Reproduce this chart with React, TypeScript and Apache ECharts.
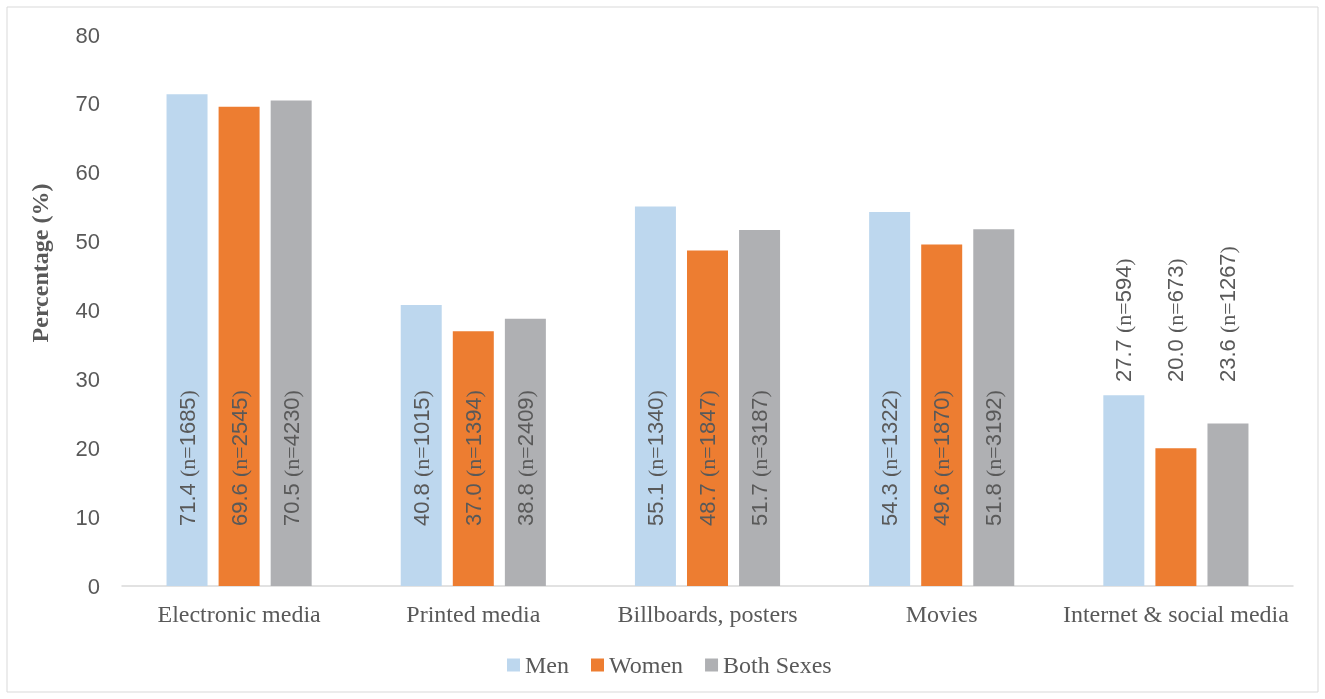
import React, { useEffect, useRef } from "react";
import * as echarts from "echarts";

const categories = ["Electronic media", "Printed media", "Billboards, posters", "Movies", "Internet & social media"];
const seriesNames = ["Men", "Women", "Both Sexes"];
const menValues = [71.4, 40.8, 55.1, 54.3, 27.7];
const womenValues = [69.6, 37.0, 48.7, 49.6, 20.0];
const bothValues = [70.5, 38.8, 51.7, 51.8, 23.6];
const menN = [1685, 1015, 1340, 1322, 594];
const womenN = [2545, 1394, 1847, 1870, 673];
const bothN = [4230, 2409, 3187, 3192, 1267];
const colors = ["#BDD7EE", "#ED7D31", "#AFB0B3"];
const labelAbove = [false, false, false, false, true];

const serif = "'Liberation Serif', 'DejaVu Serif', serif";
const sans = "'Liberation Sans', 'DejaVu Sans', sans-serif";
const textColor = "#595959";

export default function App() {
  const ref = useRef<HTMLDivElement>(null);
  useEffect(() => {
    if (!ref.current) return;
    const chart = echarts.init(ref.current, null, { renderer: "svg" });
    const vals = [menValues, womenValues, bothValues];
    const ns = [menN, womenN, bothN];
    const series = seriesNames.map((name, si) => ({
      name,
      type: "bar",
      barWidth: 41,
      barGap: "27%",
      itemStyle: { color: colors[si] },
      data: vals[si].map((v, i) => ({
        value: v,
        label: labelAbove[i]
          ? { position: "insideBottom", distance: 204 }
          : { position: "insideBottom", distance: 60 },
      })),
      label: {
        show: true,
        rotate: 90,
        align: "left",
        verticalAlign: "middle",
        color: textColor,
        formatter: (p: any) =>
          `{s|${vals[si][p.dataIndex].toFixed(1)} }{t|(n=}{s|${ns[si][p.dataIndex]}}{t|)}`,
        rich: {
          s: { fontFamily: sans, fontSize: 22, color: textColor },
          t: { fontFamily: serif, fontSize: 22, color: textColor },
        },
      },
    }));
    chart.setOption({
      animation: false,
      grid: { left: 122, right: 32, top: 35, bottom: 113 },
      graphic: [
        {
          type: "rect",
          shape: { x: 7, y: 7, width: 1311, height: 685 },
          style: { fill: "none", stroke: "#d9d9d9", lineWidth: 1 },
          silent: true,
        },
        {
          type: "text",
          x: 40,
          y: 263,
          rotation: Math.PI / 2,
          style: {
            text: "Percentage (%)",
            font: `bold 24px ${serif}`,
            fill: textColor,
            align: "center",
            verticalAlign: "middle",
          },
          silent: true,
        },
      ],
      legend: {
        top: 648,
        left: 502,
        itemWidth: 13,
        itemHeight: 13,
        itemGap: 22,
        icon: "rect",
        textStyle: { fontFamily: serif, fontSize: 24, color: textColor },
        data: seriesNames,
      },
      xAxis: {
        type: "category",
        data: categories,
        axisLine: { lineStyle: { color: "#d9d9d9", width: 1.5 } },
        axisTick: { show: false },
        axisLabel: { interval: 0, fontFamily: serif, fontSize: 24, color: textColor, margin: 16 },
      },
      yAxis: {
        type: "value",
        min: 0,
        max: 80,
        interval: 10,
        splitLine: { show: false },
        axisLine: { show: false },
        axisTick: { show: false },
        axisLabel: { fontFamily: sans, fontSize: 22, color: textColor, margin: 22 },
      },
      series,
    });
    return () => chart.dispose();
  }, []);
  return <div ref={ref} style={{ position: "fixed", left: 0, top: 0, width: 1325, height: 699 }} />;
}
